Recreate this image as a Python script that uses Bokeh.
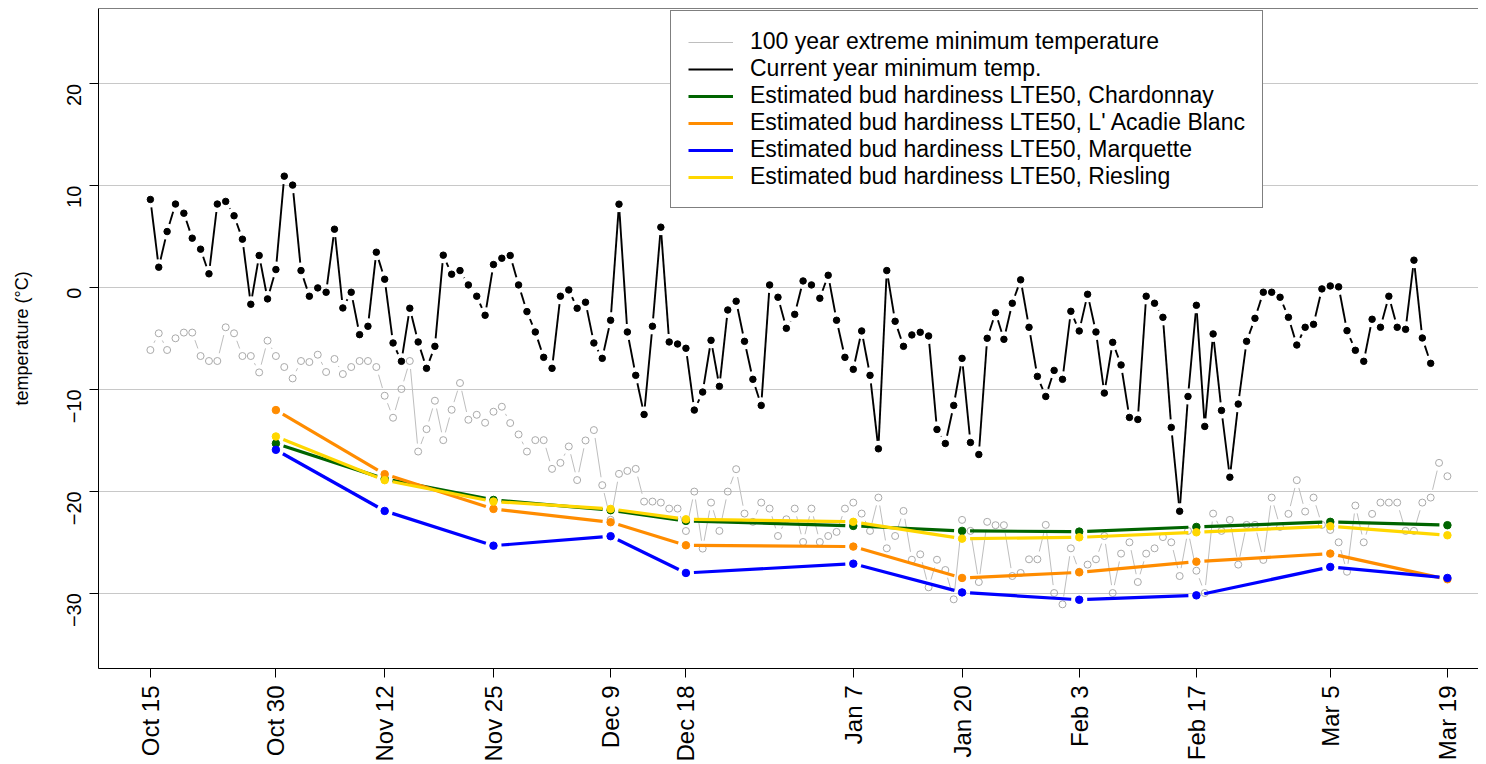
import numpy as np
import pandas as pd
from bokeh.plotting import figure
from bokeh.models import Range1d, FixedTicker, Legend, LegendItem, ColumnDataSource, Span
from bokeh.embed import file_html
from bokeh.resources import INLINE

# ---------------- data ----------------
season_start = "2022-10-15"

current_min = [
    8.65, 2.0, 5.5, 8.2, 7.3, 4.85, 3.77, 1.35, 8.2, 8.46,
    7.05, 4.75, -1.64, 3.15, -1.11, 1.77, 10.94, 10.06, 1.67, -0.85,
    -0.03, -0.46, 5.73, -2.0, -0.46, -4.62, -3.8, 3.47, 0.82, -5.44,
    -7.24, -2.03, -5.34, -7.93, -5.77, 3.18, 1.31, 1.67, 0.26, -0.85,
    -2.72, 2.26, 2.88, 3.15, 0.26, -2.36, -4.36, -6.85, -7.93, -0.85,
    -0.23, -2.03, -1.44, -5.44, -6.95, -3.21, 8.19, -4.36, -8.62, -12.46,
    -3.8, 5.93, -5.34, -5.54, -5.96, -12.03, -10.26, -5.18, -9.7, -2.2,
    -1.34, -5.28, -9.01, -11.57, 0.26, -0.95, -4.0, -2.63, 0.65, 0.26,
    -1.05, 1.21, -3.21, -6.85, -8.03, -4.26, -8.62, -15.83, 1.67, -3.31,
    -5.77, -4.65, -4.39, -4.75, -13.93, -15.31, -11.57, -6.95, -15.21, -16.39,
    -4.98, -2.46, -5.08, -1.54, 0.76, -3.9, -8.72, -10.69, -8.13, -9.01,
    -2.33, -4.26, -0.66, -4.36, -10.36, -5.38, -7.6, -12.75, -12.95, -0.85,
    -1.54, -2.92, -13.73, -21.96, -10.69, -1.74, -13.63, -4.55, -12.06, -18.62,
    -11.44, -5.28, -3.02, -0.46, -0.46, -0.95, -2.92, -5.64, -3.9, -3.61,
    -0.13, 0.16, 0.07, -4.23, -6.16, -7.24, -3.11, -3.9, -0.85, -3.9,
    -4.1, 2.69, -4.95, -7.44,
]

extreme_min = [
    -6.13, -4.49, -6.13, -4.98, -4.42, -4.42, -6.72, -7.21, -7.21, -3.9,
    -4.49, -6.72, -6.72, -8.33, -5.21, -6.72, -7.8, -8.92, -7.21, -7.31,
    -6.59, -8.29, -7.01, -8.49, -7.8, -7.21, -7.21, -7.8, -10.62, -12.78,
    -9.96, -7.21, -16.1, -13.9, -11.11, -14.98, -12.0, -9.37, -12.98, -12.49,
    -13.27, -12.19, -11.7, -13.3, -14.42, -16.1, -14.98, -14.98, -17.8, -17.21,
    -15.6, -18.9, -15.01, -13.99, -19.4, -22.8, -18.29, -18.0, -17.8, -21.01,
    -21.01, -21.11, -21.7, -21.7, -23.9, -20.03, -25.63, -21.11, -23.89, -20.03,
    -17.83, -22.19, -23.0, -21.11, -21.7, -24.39, -22.75, -21.7, -24.98, -21.7,
    -24.98, -24.39, -23.99, -21.7, -21.11, -22.19, -23.89, -20.62, -25.6, -24.39,
    -21.93, -26.72, -26.19, -29.43, -26.72, -27.73, -30.61, -22.81, -23.89, -28.91,
    -23.0, -23.33, -23.33, -28.32, -28.02, -26.68, -26.68, -23.3, -29.99, -31.1,
    -25.6, -27.9, -27.2, -26.68, -24.39, -29.99, -26.12, -25.01, -28.91, -26.12,
    -25.6, -24.5, -25.01, -28.32, -23.89, -27.8, -29.99, -22.19, -23.89, -22.81,
    -27.2, -23.3, -23.3, -26.74, -20.62, -23.5, -22.22, -18.91, -21.99, -20.62,
    -23.3, -23.8, -25.01, -27.9, -21.4, -25.01, -22.22, -21.11, -21.11, -21.11,
    -23.89, -23.89, -21.11, -20.62, -17.21, -18.52,
]

hardiness_dates = ["2022-10-30", "2022-11-12", "2022-11-25", "2022-12-09", "2022-12-18",
                   "2023-01-07", "2023-01-20", "2023-02-03", "2023-02-17", "2023-03-05",
                   "2023-03-19"]
chardonnay = [-15.31, -18.78, -20.85, -21.86, -22.91, -23.4, -23.89, -23.96, -23.5, -23.0, -23.33]
lacadie = [-12.03, -18.32, -21.73, -23.04, -25.3, -25.43, -28.51, -27.96, -26.91, -26.12, -28.64]
marquette = [-15.93, -21.93, -25.34, -24.41, -28.02, -27.11, -29.93, -30.65, -30.22, -27.43, -28.51]
riesling = [-14.62, -18.91, -21.01, -21.73, -22.75, -23.0, -24.65, -24.52, -24.03, -23.43, -24.32]

tick_dates = ["2022-10-15", "2022-10-30", "2022-11-12", "2022-11-25", "2022-12-09", "2022-12-18",
              "2023-01-07", "2023-01-20", "2023-02-03", "2023-02-17", "2023-03-05", "2023-03-19"]
tick_labels = ["Oct 15", "Oct 30", "Nov 12", "Nov 25", "Dec 9", "Dec 18",
               "Jan 7", "Jan 20", "Feb 3", "Feb 17", "Mar 5", "Mar 19"]
y_ticks = [-30, -20, -10, 0, 10, 20]

legend_labels = ["100 year extreme minimum temperature",
                 "Current year minimum temp.",
                 "Estimated bud hardiness LTE50, Chardonnay",
                 "Estimated bud hardiness LTE50, L' Acadie Blanc",
                 "Estimated bud hardiness LTE50, Marquette",
                 "Estimated bud hardiness LTE50, Riesling"]

# ---------------- helpers ----------------
t0 = pd.Timestamp(season_start)


def to_day(dates):
    return [(pd.Timestamp(d) - t0).days for d in dates]


cur_x = list(range(len(current_min)))
ext_x = list(range(len(extreme_min)))
hard_x = to_day(hardiness_dates)
tick_x = to_day(tick_dates)

W, H = 1478, 764
BL, BR, BT, BB = 98, 0, 8, 96
FW, FH = W - BL - BR, H - BT - BB
X0, X1 = -6.2, -6.2 + FW / 8.368
Y0, Y1 = -37.4, 27.4
PXX = FW / (X1 - X0)
PXY = FH / (Y1 - Y0)


def gapped(xs, ys, gap=8.0):
    x = np.asarray(xs, float)
    y = np.asarray(ys, float)
    ddx, ddy = np.diff(x), np.diff(y)
    L = np.hypot(ddx * PXX, ddy * PXY)
    keep = L > 2 * gap
    t = np.where(keep, gap / np.where(L == 0, 1, L), 0)
    return ColumnDataSource(dict(
        x0=(x[:-1] + t * ddx)[keep], y0=(y[:-1] + t * ddy)[keep],
        x1=(x[1:] - t * ddx)[keep], y1=(y[1:] - t * ddy)[keep]))


FONT = "Liberation Sans"

p = figure(width=W, height=H, output_backend="svg", toolbar_location=None,
           x_range=Range1d(X0, X1), y_range=Range1d(Y0, Y1),
           min_border_left=BL, min_border_right=BR, min_border_top=BT, min_border_bottom=BB)
p.outline_line_color = None
p.background_fill_color = "white"
p.border_fill_color = "white"

# grid
p.xgrid.visible = False
p.ygrid.ticker = FixedTicker(ticks=y_ticks)
p.ygrid.grid_line_color = "#C8C8C8"
p.ygrid.grid_line_width = 1

# top border line
p.add_layout(Span(location=Y1, dimension="width", line_color="black", line_width=1))

# axes
p.xaxis.ticker = FixedTicker(ticks=tick_x)
p.xaxis.major_label_overrides = {d: s for d, s in zip(tick_x, tick_labels)}
p.xaxis.major_label_orientation = np.pi / 2
p.xaxis.major_label_text_font = FONT
p.xaxis.major_label_text_font_size = "24px"
p.xaxis.major_label_text_color = "black"
p.xaxis.major_tick_out = 9
p.xaxis.major_tick_in = 0
p.xaxis.minor_tick_line_color = None
p.xaxis.major_label_standoff = 8
p.xaxis.axis_line_color = "black"

p.yaxis.ticker = FixedTicker(ticks=y_ticks)
p.yaxis.major_label_orientation = np.pi / 2
p.yaxis.major_label_text_font = FONT
p.yaxis.major_label_text_font_size = "20px"
p.yaxis.major_label_text_color = "black"
p.yaxis.major_tick_out = 9
p.yaxis.major_tick_in = 0
p.yaxis.minor_tick_line_color = None
p.yaxis.major_label_standoff = 15
p.yaxis.axis_line_color = "black"
p.yaxis.axis_label = "temperature (°C)"
p.yaxis.axis_label_text_font = FONT
p.yaxis.axis_label_text_font_size = "18px"
p.yaxis.axis_label_text_font_style = "normal"
p.yaxis.axis_label_text_color = "black"
p.yaxis.axis_label_standoff = 26

# 100-year extreme minimum (grey, open circles, gapped line)
r_ext = p.segment("x0", "y0", "x1", "y1", source=gapped(ext_x, extreme_min),
                  line_color="#BEBEBE", line_width=1)
p.scatter(ext_x, extreme_min, marker="circle", size=7, fill_color=None,
          line_color="#AAAAAA", line_width=1)

# current year minimum (black)
r_cur = p.segment("x0", "y0", "x1", "y1", source=gapped(cur_x, current_min),
                  line_color="black", line_width=1.9)
p.scatter(cur_x, current_min, marker="circle", size=6.5, fill_color="black", line_color="black")

# hardiness series
series = [(chardonnay, "#006400"), (lacadie, "#FF8C00"), (marquette, "#0000FF"), (riesling, "#FFD700")]
hard_renderers = []
for vals, col in series:
    r = p.segment("x0", "y0", "x1", "y1", source=gapped(hard_x, vals),
                  line_color=col, line_width=3.2)
    p.scatter(hard_x, vals, marker="circle", size=7.5, fill_color=col, line_color=col)
    hard_renderers.append(r)

# legend
legend_renderers = [r_ext, r_cur] + hard_renderers
items = [LegendItem(label=lab, renderers=[r]) for lab, r in zip(legend_labels, legend_renderers)]
legend = Legend(items=items, location=(572, 460))
legend.border_line_color = "black"
legend.border_line_width = 1
legend.background_fill_color = "white"
legend.background_fill_alpha = 1
legend.label_text_font = FONT
legend.label_text_font_size = "23px"
legend.label_text_color = "black"
legend.glyph_width = 45
legend.glyph_height = 20
legend.label_height = 20
legend.label_standoff = 17
legend.spacing = 0
legend.padding = 17
legend.margin = 0
p.add_layout(legend)

open("out.html", "w").write(file_html(p, INLINE))
